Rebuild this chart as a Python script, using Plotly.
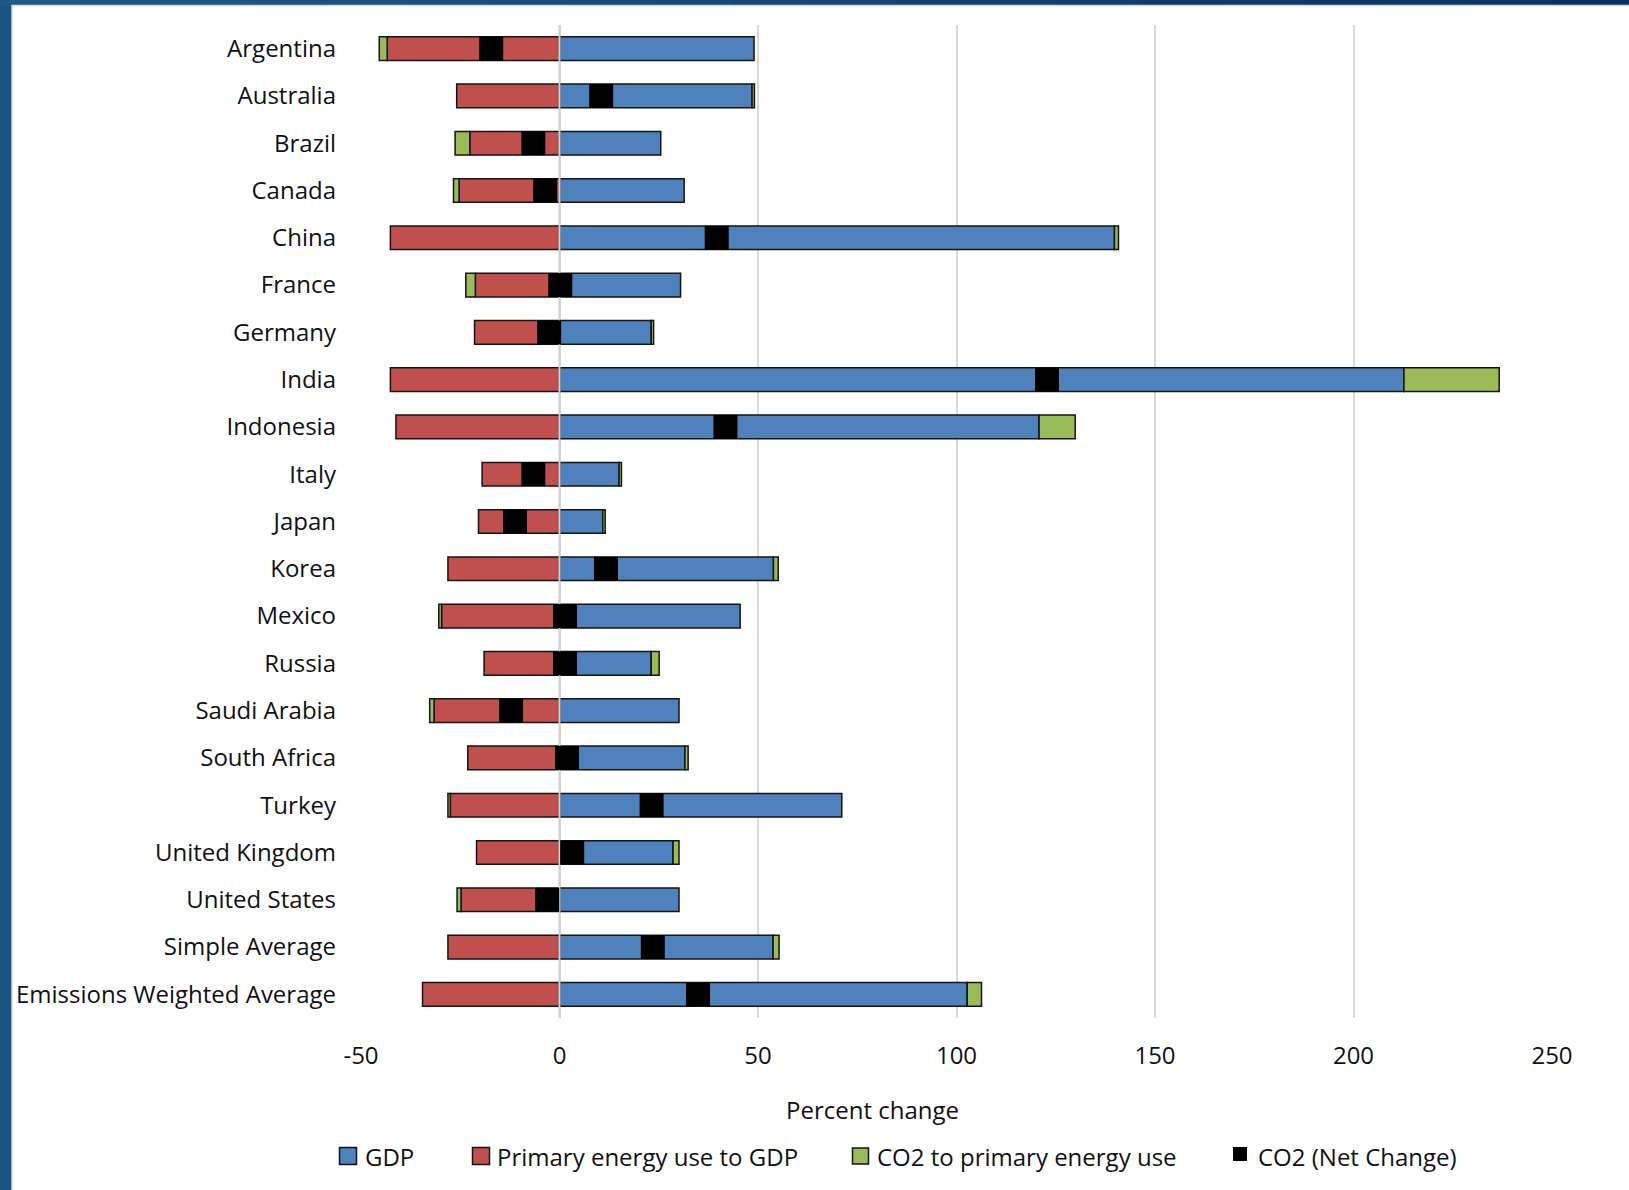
import plotly.graph_objects as go

# ---- data -------------------------------------------------------------
categories = [
    "Argentina", "Australia", "Brazil", "Canada", "China", "France",
    "Germany", "India", "Indonesia", "Italy", "Japan", "Korea", "Mexico",
    "Russia", "Saudi Arabia", "South Africa", "Turkey", "United Kingdom",
    "United States", "Simple Average", "Emissions Weighted Average",
]
gdp = [49.0, 48.5, 25.5, 31.4, 139.8, 30.5, 23.1, 212.7, 120.8, 15.0, 10.9,
       53.9, 45.5, 23.1, 30.1, 31.6, 71.1, 28.6, 30.1, 53.8, 102.7]
energy_to_gdp = [-43.4, -25.9, -22.6, -25.3, -42.6, -21.2, -21.4, -42.6, -41.2,
                 -19.5, -20.4, -28.1, -29.7, -19.0, -31.6, -23.1, -27.5, -20.9,
                 -24.8, -28.1, -34.5]
co2_to_energy = [-2.0, 0.6, -3.7, -1.4, 1.0, -2.4, 0.6, 24.0, 9.1, 0.6, 0.6,
                 1.2, -0.7, 2.0, -1.1, 0.8, -0.6, 1.5, -1.0, 1.5, 3.6]
co2_net = [-17.2, 10.5, -6.6, -3.6, 39.6, 0.2, -2.6, 122.8, 41.8, -6.6, -11.2,
           11.7, 1.4, 1.4, -12.2, 1.9, 23.2, 3.2, -3.1, 23.5, 34.9]

x_ticks = [-50, 0, 50, 100, 150, 200, 250]
x_tick_labels = ["-50", "0", "50", "100", "150", "200", "250"]
series_names = ["GDP", "Primary energy use to GDP", "CO2 to primary energy use",
                "CO2 (Net Change)"]

# ---- style ------------------------------------------------------------
BLUE, RED, GREEN = "#4F81BD", "#C0504D", "#9BBB59"
FONT = "Open Sans"
FS = 24
TXT = "#111111"
W, H = 1629, 1190
L, R, T, B = 361, 77, 25, 172
PW, PH = W - L - R, H - T - B


def px_x(px):
    return (px - L) / PW


def px_y(py):
    return (H - B - py) / PH


pos = list(range(len(categories)))
outline = dict(color="#141414", width=1.5)

fig = go.Figure()
for name, vals, color in [(series_names[0], gdp, BLUE),
                          (series_names[1], energy_to_gdp, RED),
                          (series_names[2], co2_to_energy, GREEN)]:
    fig.add_trace(go.Bar(
        y=pos, x=vals, orientation="h", name=name, width=0.5,
        marker=dict(color=color, line=outline), showlegend=False,
    ))

# vertical axis line at zero, drawn over the bars
fig.add_trace(go.Scatter(
    x=[0, 0], y=[-0.5, len(categories) - 0.5], mode="lines",
    line=dict(color="#d0d0d0", width=2), hoverinfo="skip", showlegend=False,
))

# net change markers
fig.add_trace(go.Scatter(
    x=co2_net, y=pos, mode="markers", name=series_names[3],
    marker=dict(symbol="square", size=24, color="black", line=dict(width=0)),
    showlegend=False,
))

shapes = []
# slide frame: blue border at left and top, white panel
top_from = (0x1e, 0x58, 0x86)
top_to = (0x0c, 0x31, 0x67)
n_seg = 20
for i in range(n_seg):
    f = i / (n_seg - 1)
    c = tuple(round(a + (b - a) * f) for a, b in zip(top_from, top_to))
    shapes.append(dict(
        type="rect", xref="paper", yref="paper", layer="below",
        x0=px_x(i * W / n_seg), x1=px_x((i + 1) * W / n_seg + 1),
        y0=px_y(6), y1=px_y(-2),
        fillcolor="rgb(%d,%d,%d)" % c, line=dict(width=0),
    ))
shapes.append(dict(
    type="rect", xref="paper", yref="paper", layer="below",
    x0=px_x(12), x1=px_x(W + 20), y0=px_y(H + 20), y1=px_y(5.5),
    fillcolor="white", line=dict(color="#d4d8dd", width=1.5),
))

# legend
legend_y = 1156
legend_items = [
    (339.5, 17, BLUE, True, 362.5),
    (472.5, 17, RED, True, 494.5),
    (852.5, 16, GREEN, True, 875),
    (1233, 14, "black", False, 1256),
]
annotations = []
for (x0, size, color, border, tx), label in zip(legend_items, series_names):
    cy = legend_y if border else legend_y - 2
    shapes.append(dict(
        type="rect", xref="paper", yref="paper",
        x0=px_x(x0), x1=px_x(x0 + size),
        y0=px_y(cy + size / 2), y1=px_y(cy - size / 2),
        fillcolor=color,
        line=dict(color="#141414", width=1.5) if border else dict(width=0),
    ))
    annotations.append(dict(
        text=label, xref="paper", yref="paper", x=px_x(tx), y=px_y(legend_y),
        xanchor="left", yanchor="middle", showarrow=False,
        font=dict(family=FONT, size=FS, color=TXT),
    ))

annotations.append(dict(
    text="Percent change", xref="paper", yref="paper",
    x=px_x(872.7), y=px_y(1109.6), xanchor="center", yanchor="middle",
    showarrow=False, font=dict(family=FONT, size=FS, color=TXT),
))

fig.update_layout(
    width=W, height=H,
    margin=dict(l=L, r=R, t=T, b=B, pad=0),
    barmode="relative",
    paper_bgcolor="#1b5281",
    plot_bgcolor="rgba(0,0,0,0)",
    font=dict(family=FONT, size=FS, color=TXT),
    shapes=shapes,
    annotations=annotations,
    showlegend=False,
    xaxis=dict(
        range=[-50, 250], tickvals=x_ticks, ticktext=x_tick_labels,
        showgrid=True, gridcolor="#d9d9d9", gridwidth=1.5,
        zeroline=False, showline=False, ticks="",
        ticklabelstandoff=21, tickfont=dict(family=FONT, size=FS, color=TXT),
    ),
    yaxis=dict(
        range=[len(categories) - 0.5, -0.5], tickvals=pos, ticktext=categories,
        showgrid=False, zeroline=False, showline=False, ticks="",
        ticklabelstandoff=24, tickfont=dict(family=FONT, size=FS, color=TXT),
    ),
)

fig.write_html("out.html")
